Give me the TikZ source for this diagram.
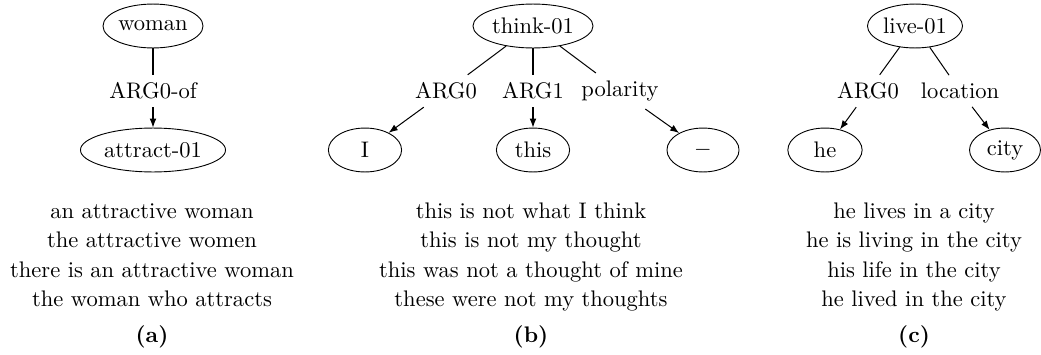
\documentclass[tikz,border=0pt]{standalone}
\usetikzlibrary{shapes.geometric,arrows.meta}
\begin{document}
\begin{tikzpicture}[x=0.444pt,y=-0.444pt,
  concept/.style={draw,ellipse,inner sep=0pt,minimum height=19.5pt},
  role/.style={inner sep=3.3pt},
  sent/.style={anchor=base,inner sep=0pt},
  subcap/.style={anchor=base,inner sep=0pt,font=\bfseries},
  link/.style={line width=0.45pt},
  arc/.style={line width=0.45pt,-{Latex[length=4pt,width=3pt]}}]
\useasboundingbox (0,0) rectangle (1041,354);
% (a)
\node[concept,minimum width=44.4pt] (woman) at (153,26) {woman};
\node[role] (a0of) at (153,91) {ARG0-of};
\node[concept,minimum width=64.4pt] (attract) at (153,150) {attract-01};
\draw[link] (woman) -- (a0of);
\draw[arc] (a0of) -- (attract);
\node[sent] (a1) at (152,218) {an attractive woman};
\node[sent] (a2) at (152,247) {the attractive women};
\node[sent] (a3) at (152,277) {there is an attractive woman};
\node[sent] (a4) at (152,306) {the woman who attracts};
\node[subcap] (capa) at (152,342) {(a)};
% (b)
\node[concept,minimum width=53.3pt] (think) at (533,26) {think-01};
\node[role] (barg0) at (446,91) {ARG0};
\node[role] (barg1) at (533,91) {ARG1};
\node[role] (bpol) at (620,91) {polarity};
\node[concept,minimum width=32.5pt] (i) at (365,150) {I};
\node[concept,minimum width=32.5pt] (this) at (533,150) {this};
\node[concept,minimum width=32pt] (minus) at (703,150) {$-$};
\draw[link] (think) -- (barg0);
\draw[link] (think) -- (barg1);
\draw[link] (think) -- (bpol);
\draw[arc] (barg0) -- (i);
\draw[arc] (barg1) -- (this);
\draw[arc] (bpol) -- (minus);
\node[sent] (b1) at (531,218) {this is not what I think};
\node[sent] (b2) at (531,247) {this is not my thought};
\node[sent] (b3) at (531,277) {this was not a thought of mine};
\node[sent] (b4) at (531,306) {these were not my thoughts};
\node[subcap] (capb) at (531,342) {(b)};
% (c)
\node[concept,minimum width=42.2pt] (live) at (915,26) {live-01};
\node[role] (carg0) at (868,91) {ARG0};
\node[role] (cloc) at (960,91) {location};
\node[concept,minimum width=33pt] (he) at (825,150) {he};
\node[concept,minimum width=31.5pt] (city) at (1005,150) {city};
\draw[link] (live) -- (carg0);
\draw[link] (live) -- (cloc);
\draw[arc] (carg0) -- (he);
\draw[arc] (cloc) -- (city);
\node[sent] (c1) at (914,218) {he lives in a city};
\node[sent] (c2) at (914,247) {he is living in the city};
\node[sent] (c3) at (914,277) {his life in the city};
\node[sent] (c4) at (914,306) {he lived in the city};
\node[subcap] (capc) at (914,342) {(c)};
\end{tikzpicture}
\end{document}
